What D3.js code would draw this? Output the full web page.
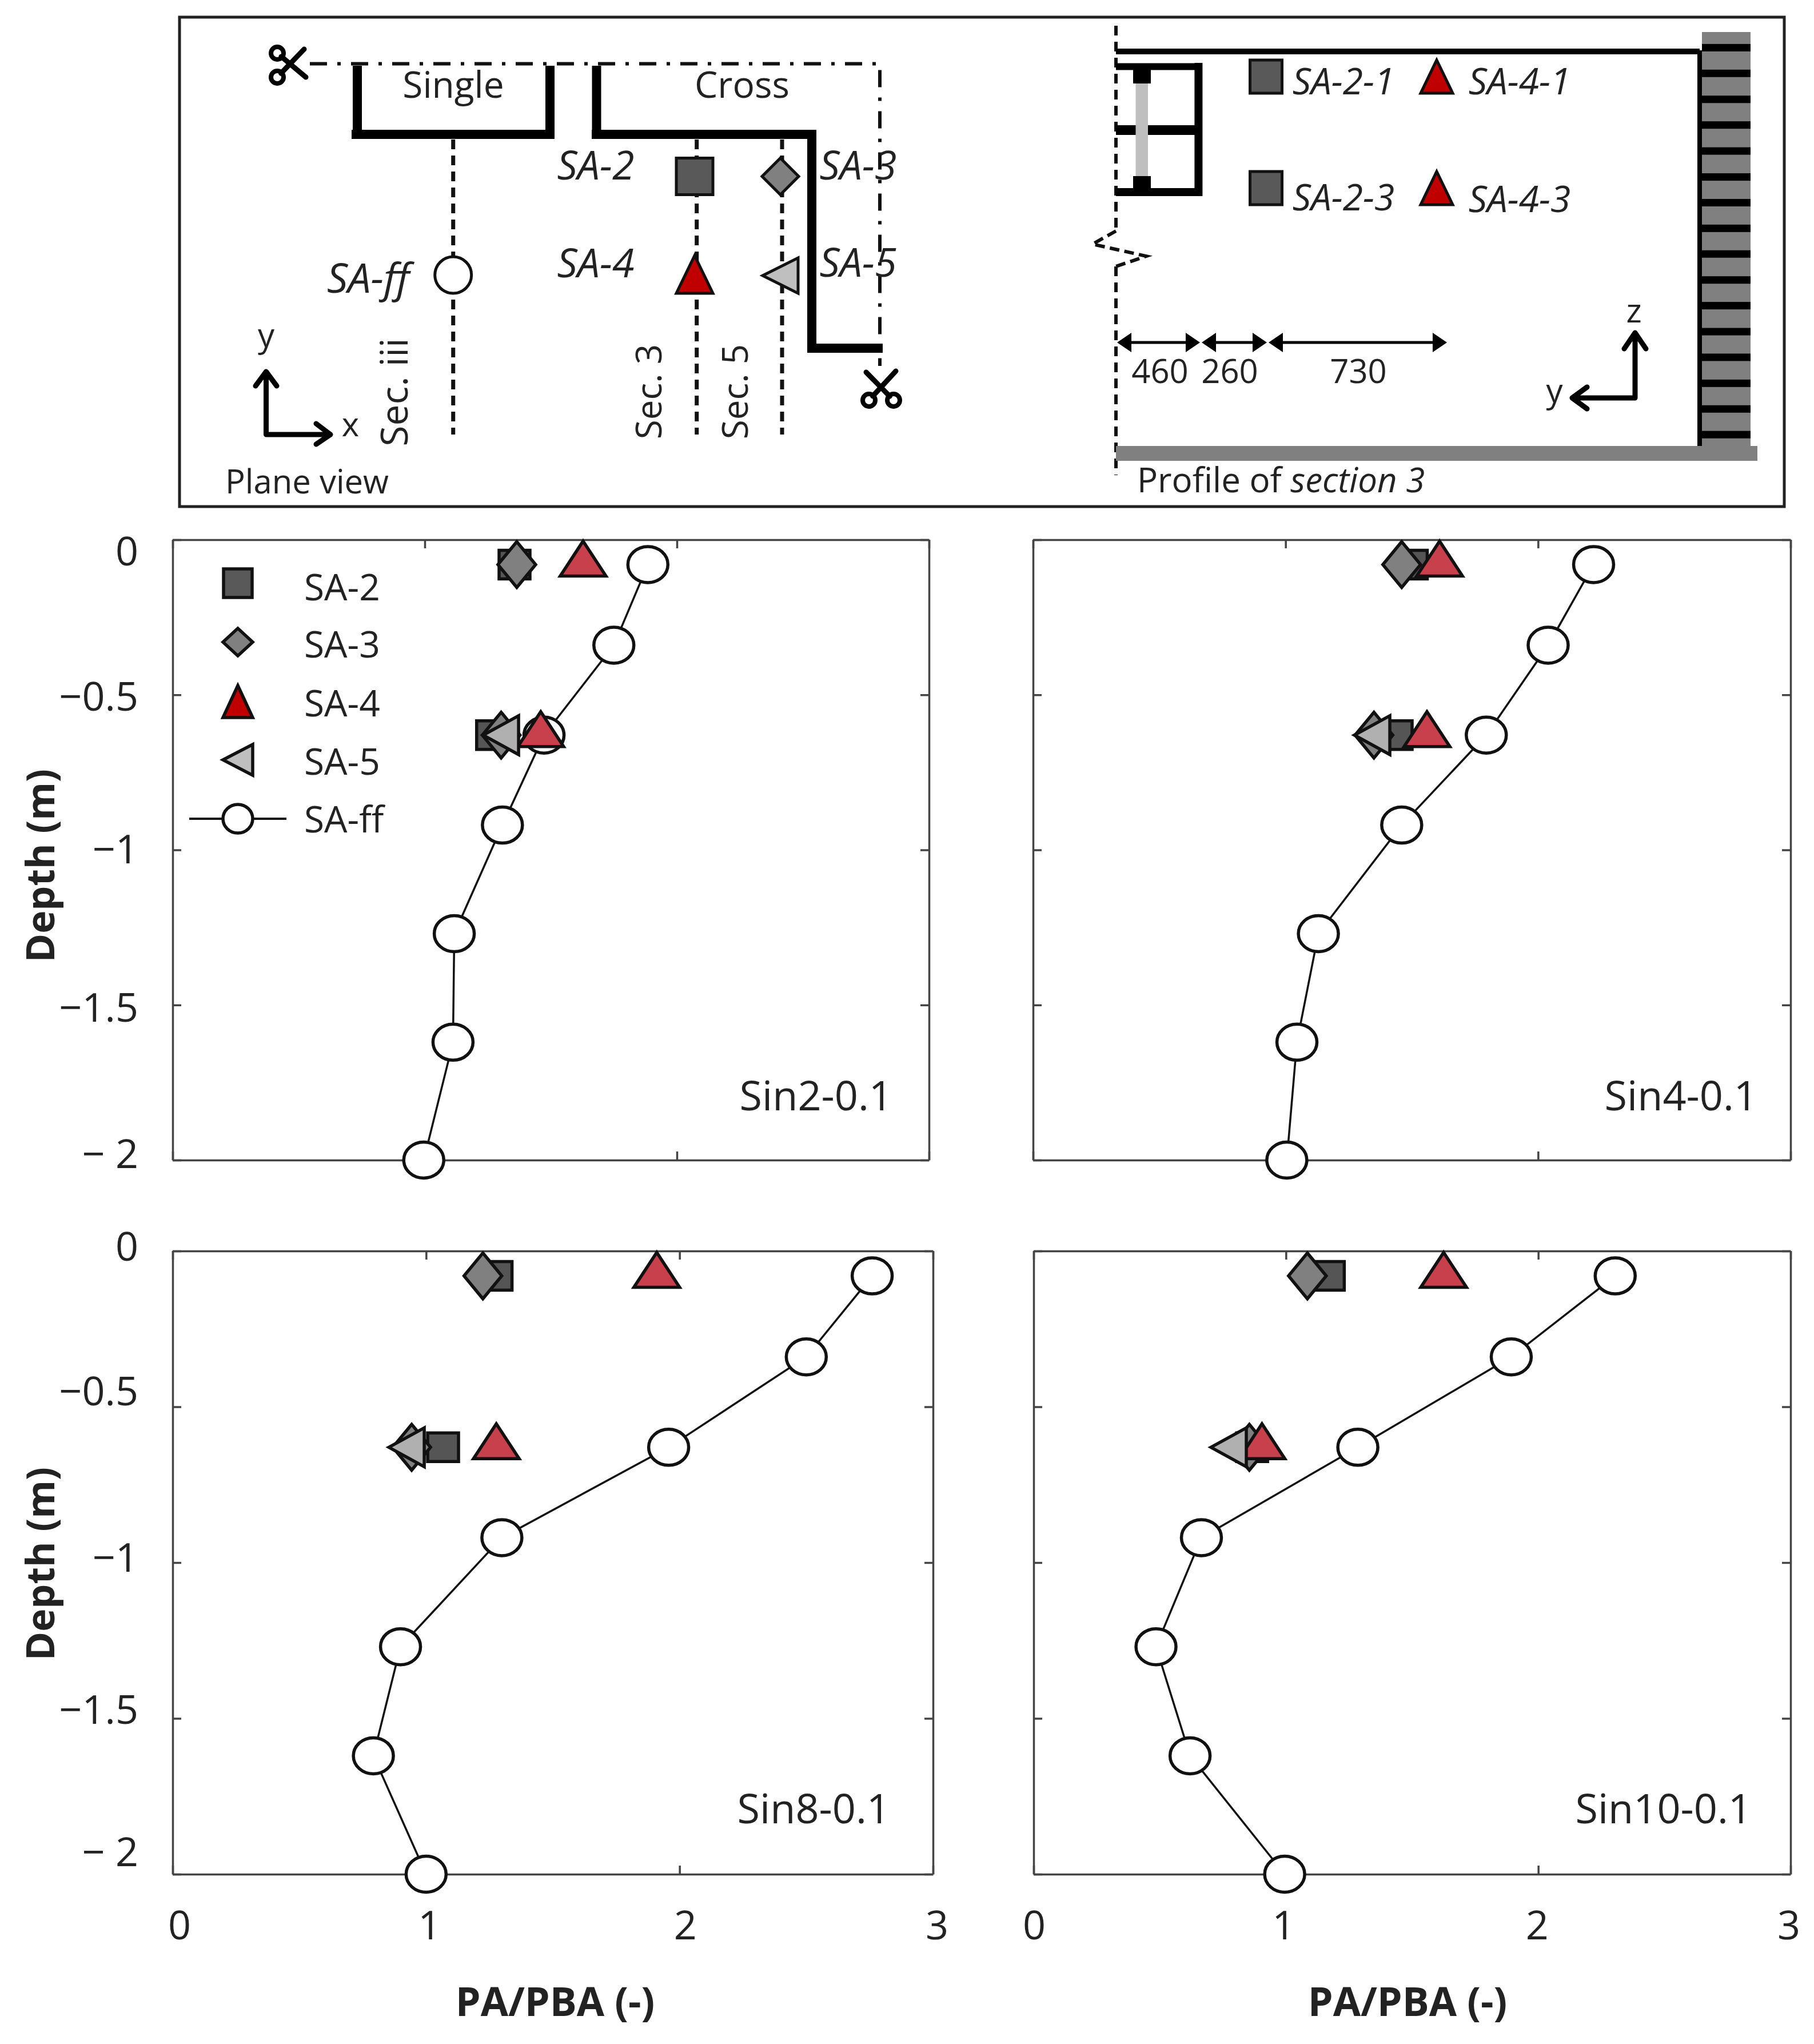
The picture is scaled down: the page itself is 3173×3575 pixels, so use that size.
<!DOCTYPE html>
<html><head><meta charset="utf-8">
<script src="https://cdn.jsdelivr.net/npm/d3@7"></script>
<style>
html,body{margin:0;padding:0;background:#fff}
text{font-family:"Open Sans",sans-serif;fill:#222}
.axis path,.axis line{stroke:#444;stroke-width:3.5;fill:none}
</style></head><body>
<svg id="c" width="3173" height="3575" viewBox="0 0 3173 3575"></svg>
<script>
// ---------- data ----------
const depths = [-0.08,-0.34,-0.63,-0.92,-1.27,-1.62,-2];
const panelNames = ["Sin2-0.1","Sin4-0.1","Sin8-0.1","Sin10-0.1"];
const saFF = [
 [1.885,1.75,1.473,1.308,1.117,1.112,0.996],
 [2.22,2.04,1.795,1.46,1.13,1.045,1.005],
 [2.76,2.50,1.957,1.299,0.899,0.792,1.0],
 [2.305,1.893,1.285,0.665,0.485,0.62,0.995]
];
const sa2 = [[1.356,1.267],[1.50,1.44],[1.278,1.067],[1.17,0.866]];
const sa3 = [[1.365,1.303],[1.46,1.35],[1.224,0.943],[1.085,0.855]];
const sa4 = [[1.628,1.46],[1.61,1.56],[1.91,1.277],[1.625,0.905]];
const sa5 = [[null,1.304],[null,1.345],[null,0.925],[null,0.775]];
const sensorDepths = [-0.08,-0.63];
const xTicks = [0,1,2,3];
const yTicks = [0,-0.5,-1,-1.5,-2];
const yTickLabels = ["0","\u22120.5","\u22121","\u22121.5","\u2212 2"];
const legendLabels = ["SA-2","SA-3","SA-4","SA-5","SA-ff"];

// ---------- layout ----------
const panels = [
 {x0:302,x1:1625,y0:944,y1:2029,labX:1561,labY:1914,yLab:[962,1216,1483,1760,2016],xOff:null},
 {x0:1807,x1:3132,y0:944,y1:2029,labX:3074,labY:1914,yLab:null,xOff:null},
 {x0:302,x1:1632,y0:2188,y1:3278,labX:1557,labY:3161,yLab:[2178,2431,2722,2988,3237],xOff:[12,6,10,7]},
 {x0:1808,x1:3132,y0:2188,y1:3278,labX:3064,labY:3161,yLab:null,xOff:[1,-4,-2,-3]}
];
const svg = d3.select("#c");
const sw = 5.5;
const shape = {
 sq:(a,b)=>`M${-a},${-b}H${a}V${b}H${-a}Z`,
 di:(a,b)=>`M0,${-b}L${a},0L0,${b}L${-a},0Z`,
 up:(a,t,bb)=>`M0,${-t}L${a},${bb}L${-a},${bb}Z`,
 left:(l,r,h)=>`M${-l},0L${r},${-h}L${r},${h}Z`
};
const symSq = shape.sq(27,25), symDi = shape.di(33,40), symUp = shape.up(40,41,20), symLeft = shape.left(32,30,34);

panels.forEach((p,i)=>{
  const x = d3.scaleLinear().domain([0,3]).range([p.x0,p.x1]);
  const y = d3.scaleLinear().domain([0,-2]).range([p.y0,p.y1]);
  const g = svg.append("g");
  const mk=(ax,tx)=>g.append("g").attr("class","axis").attr("transform",tx).call(ax);
  mk(d3.axisBottom(x).tickValues(xTicks).tickSizeInner(-15).tickSizeOuter(0).tickFormat(""),`translate(0,${p.y1})`);
  mk(d3.axisTop(x).tickValues(xTicks).tickSizeInner(-15).tickSizeOuter(0).tickFormat(""),`translate(0,${p.y0})`);
  mk(d3.axisLeft(y).tickValues(yTicks).tickSizeInner(-15).tickSizeOuter(0).tickFormat(""),`translate(${p.x0},0)`);
  mk(d3.axisRight(y).tickValues(yTicks).tickSizeInner(-15).tickSizeOuter(0).tickFormat(""),`translate(${p.x1},0)`);
  // SA-ff line + markers
  const ff = depths.map((d,k)=>({d,v:saFF[i][k]}));
  g.append("path").datum(ff)
    .attr("d",d3.line().x(q=>x(q.v)).y(q=>y(q.d)))
    .attr("fill","none").attr("stroke","#111").attr("stroke-width",3.5);
  g.selectAll("ellipse.ff").data(ff).join("ellipse").attr("class","ff")
    .attr("cx",q=>x(q.v)).attr("cy",q=>y(q.d)).attr("rx",35).attr("ry",31.5)
    .attr("fill","#fff").attr("stroke","#111").attr("stroke-width",sw);
  // sensors
  const series=[[sa2,symSq,"#555555"],[sa3,symDi,"#808080"],[sa4,symUp,"#c8404c"],[sa5,symLeft,"#b0b0b0"]];
  series.forEach(([arr,sym,col])=>{
    const pts=sensorDepths.map((d,k)=>({d,v:arr[i][k]})).filter(q=>q.v!=null);
    g.selectAll(null).data(pts).join("path").attr("d",sym)
      .attr("transform",q=>`translate(${x(q.v)},${y(q.d)})`)
      .attr("fill",col).attr("stroke","#111").attr("stroke-width",sw);
  });
  // tick labels
  if(p.xOff) xTicks.forEach((t,k)=>{
    svg.append("text").attr("x",x(t)+p.xOff[k]).attr("y",3365).attr("text-anchor","middle")
      .attr("dominant-baseline","central").attr("font-size",70).text(t);
  });
  if(p.yLab) yTickLabels.forEach((t,k)=>{
    svg.append("text").attr("x",p.x0-60).attr("y",p.yLab[k]).attr("text-anchor","end")
      .attr("dominant-baseline","central").attr("font-size",70).text(t);
  });
  svg.append("text").attr("x",p.labX).attr("y",p.labY).attr("text-anchor","end")
    .attr("dominant-baseline","central").attr("font-size",72).text(panelNames[i]);
});
// axis titles
[[971,3499],[2462,3499]].forEach(([a,b])=>svg.append("text").attr("x",a).attr("y",b).attr("text-anchor","middle")
  .attr("dominant-baseline","central").attr("font-size",70).attr("font-weight",700).text("PA/PBA (-)"));
[1514,2735].forEach(b=>svg.append("text").attr("transform",`translate(68,${b}) rotate(-90)`).attr("text-anchor","middle")
  .attr("dominant-baseline","central").attr("font-size",68).attr("font-weight",700).text("Depth (m)"));

// legend
const lx=416, ly=[1020,1123,1231,1329,1432];
const lg=svg.append("g");
lg.append("line").attr("x1",331).attr("x2",501).attr("y1",ly[4]).attr("y2",ly[4]).attr("stroke","#111").attr("stroke-width",4);
[[shape.sq(25,25),"#595959"],[shape.di(26,24),"#808080"],[shape.up(26,32,24),"#c00000"],[shape.left(26,26,27),"#bfbfbf"]].forEach(([s,c],k)=>{
  lg.append("path").attr("d",s).attr("transform",`translate(${lx},${ly[k]})`).attr("fill",c).attr("stroke","#111").attr("stroke-width",sw);
});
lg.append("ellipse").attr("cx",lx).attr("cy",ly[4]).attr("rx",26).attr("ry",25).attr("fill","#fff").attr("stroke","#111").attr("stroke-width",sw);
legendLabels.forEach((t,k)=>lg.append("text").attr("x",532).attr("y",[1025,1125,1228,1330,1431][k]).attr("dominant-baseline","central")
  .attr("font-size",64).text(t));

// ---------- schematic ----------
const s=svg.append("g");
s.append("rect").attr("x",314).attr("y",30).attr("width",2807).attr("height",856).attr("fill","none").attr("stroke","#222").attr("stroke-width",5);
const ln=(x1,y1,x2,y2,w,c="#000",da=null,cap="butt")=>{const l=s.append("line").attr("x1",x1).attr("y1",y1).attr("x2",x2).attr("y2",y2)
  .attr("stroke",c).attr("stroke-width",w).attr("stroke-linecap",cap); if(da)l.attr("stroke-dasharray",da); return l;};
const tx=(t,x,y,size=58,opt={})=>{const e=s.append("text").attr("x",x).attr("y",y).attr("font-size",size).attr("dominant-baseline","central")
  .attr("text-anchor",opt.anchor||"middle").text(t); if(opt.italic)e.attr("font-style","italic"); if(opt.rot)e.attr("transform",`rotate(-90 ${x} ${y})`); return e;};
// dash-dot
s.append("path").attr("d","M542,111.5H1539V640").attr("fill","none").attr("stroke","#111").attr("stroke-width",6).attr("stroke-dasharray","30 18 6 18");
// walls
["M625,115V235M615,235H970M962,115V235","M1043.5,115V235M1035,235H1427M1420,227V609M1412,609H1544"].forEach(d=>
  s.append("path").attr("d",d).attr("fill","none").attr("stroke","#000").attr("stroke-width",16));
// dashed sections
[792.7,1218.7,1368].forEach(x=>ln(x,244,x,760,7,"#111","17 11"));
const mark=(d,x,y,f)=>s.append("path").attr("d",d).attr("transform",`translate(${x},${y})`).attr("fill",f).attr("stroke","#111").attr("stroke-width",5);
mark(shape.sq(32,32),1215,308.5,"#595959");
mark(shape.di(32,32),1365,308.5,"#808080");
mark(shape.up(32,35,31),1215,482,"#c00000");
mark(shape.left(31,31,31),1365,482,"#bfbfbf");
s.append("circle").attr("cx",792.7).attr("cy",481).attr("r",32).attr("fill","#fff").attr("stroke","#111").attr("stroke-width",5);
// scissors
const sci=(c1,c2,b1,b2)=>{
  [[c1,b1],[c2,b2]].forEach(([c,b])=>{
    s.append("circle").attr("cx",c[0]).attr("cy",c[1]).attr("r",11).attr("fill","none").attr("stroke","#000").attr("stroke-width",8);
    ln(c[0]+(b[0]-c[0])*.14,c[1]+(b[1]-c[1])*.14,b[0],b[1],9,"#000",null,"round");
  });
};
sci([485,93],[485,135],[535,135],[532,86]);
sci([1520,700],[1563,700],[1567,649],[1515,651]);
// labels left
tx("Single",793,146,64); tx("Cross",1298,146,64);
tx("SA-2",1042,287,70,{italic:1}); tx("SA-4",1042,458,70,{italic:1});
tx("SA-ff",644,484,72,{italic:1}); tx("SA-3",1501,287,70,{italic:1}); tx("SA-5",1501,457,70,{italic:1});
tx("Plane view",537,840);
tx("Sec. iii",687,686,66,{rot:1}); tx("Sec. 3",1133,685,62,{rot:1}); tx("Sec. 5",1284,685,62,{rot:1});
tx("y",465.5,584); tx("x",613,740);
// arrows
s.append("path").attr("d","M465.5,655V760H578M447,675L465.5,650L484,675M553,741L578,760L553,777").attr("fill","none").attr("stroke","#000").attr("stroke-width",9).attr("stroke-linecap","round").attr("stroke-linejoin","round");
s.append("path").attr("d","M2860,586V696H2752M2841,610L2860,582L2879,610M2776,677L2750,696L2776,715").attr("fill","none").attr("stroke","#000").attr("stroke-width",9).attr("stroke-linecap","round").attr("stroke-linejoin","round");
tx("z",2858,541); tx("y",2719,681);
// right part
ln(1952,45,1952,404,6,"#111","17 11");
s.append("path").attr("d","M1952,404L1911,427L2005,448L1952,466").attr("fill","none").attr("stroke","#111").attr("stroke-width",6).attr("stroke-dasharray","17 9");
ln(1952,466,1952,831,6,"#111","17 11");
s.append("rect").attr("x",1952).attr("y",780).attr("width",1122).attr("height",26).attr("fill","#808080");
s.append("rect").attr("x",2977).attr("y",56).attr("width",85).attr("height",724).attr("fill","#808080");
[113,193,274,354,435,516,596,676,756,837,917,998,1078,1159,1239,1319].forEach(z=>{
  s.append("rect").attr("x",2977).attr("y",20+z/1.782-6.5).attr("width",85).attr("height",13).attr("fill","#000");
});
ln(2973,88,2973,780,8); ln(1952,90,2973,90,10);
ln(1952,116.5,2103,116.5,12); ln(1952,227.6,2103,227.6,17); ln(1952,336,2103,336,14); ln(2096.4,110,2096.4,343,14);
s.append("rect").attr("x",1986.5).attr("y",146).attr("width",21.5).attr("height",162).attr("fill","#bfbfbf");
s.append("rect").attr("x",1982).attr("y",122).attr("width",31).attr("height",24).attr("fill","#000");
s.append("rect").attr("x",1982).attr("y",308).attr("width",31).attr("height",24).attr("fill","#000");
mark(shape.sq(28,29),2214.5,134,"#595959"); mark(shape.sq(28,29),2214.5,329,"#595959");
mark(shape.up(28,29,29),2513,134,"#c00000"); mark(shape.up(28,29,29),2513,329,"#c00000");
tx("SA-2-1",2350,140,64,{italic:1}); tx("SA-4-1",2658,140,64,{italic:1});
tx("SA-2-3",2350,343,64,{italic:1}); tx("SA-4-3",2658,346,64,{italic:1});
// dimension arrows
[[1954,2099],[2102,2216],[2219,2531]].forEach(([a,b])=>{
  ln(a+10,599,b-10,599,5);
  s.append("path").attr("d",`M${a},599L${a+25},582V616ZM${b},599L${b-25},582V616Z`).attr("fill","#000");
});
tx("460",2029,647); tx("260",2151,647); tx("730",2376,647);
const pf=s.append("text").attr("x",1989).attr("y",838).attr("font-size",60).attr("dominant-baseline","central");
pf.append("tspan").text("Profile of ");
pf.append("tspan").attr("font-style","italic").text("section 3");
</script>
</body></html>
